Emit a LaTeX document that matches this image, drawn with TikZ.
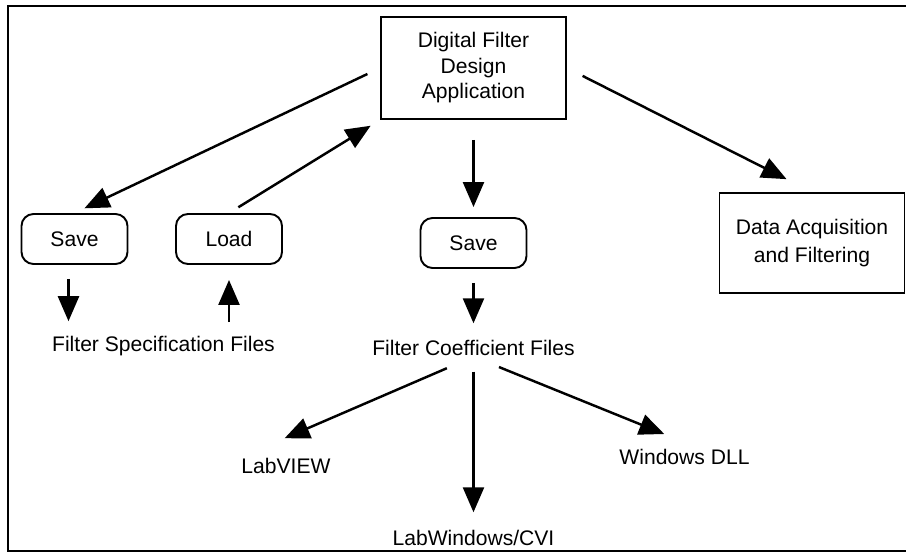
\documentclass[tikz,border=0pt]{standalone}
\usepackage{fontspec}
\setmainfont{Liberation Sans}
\usetikzlibrary{arrows.meta}

\begin{document}
\begin{tikzpicture}[node distance=3.5cm,>={Triangle[length=0.5cm,width=0.42cm]},line width=1.1pt]
        \tikzstyle{block}=[rectangle,draw,minimum width=3.7cm,minimum height=2.04cm,align=center,font=\fontsize{12}{14.5}\selectfont]
        \tikzstyle{step op}=[rectangle,draw,rounded corners=0.24cm,minimum width=2.12cm,minimum height=1cm,font=\fontsize{12}{14}\selectfont]
        \tikzstyle{files}=[inner sep=0pt,font=\fontsize{12}{14}\selectfont]
        \tikzstyle{flow}=[->,line width=1.4pt]

        \useasboundingbox (-9.47,-9.7) rectangle (8.65,1.36);
        \draw [line width=1.3pt] (-9.31,1.24) rectangle (9.3,-9.66); %frame

        \node [block] (app) {Digital Filter\\Design\\Application};
        \node [step op] (saveB) [below of=app] {Save};
        \node [step op] (load) [left of=saveB, node distance=4.89cm, yshift=0.08cm] {Load};
        \node [step op] (saveA) [left of=load, node distance=3.09cm] {Save};
        \node [block, minimum height=2cm, font=\fontsize{12}{15.5}\selectfont] (daq) [right of=saveB, node distance=6.77cm] {Data Acquisition\\and Filtering};

        \node [files] (specfiles) [below of=saveA, node distance=2.14cm, xshift=1.78cm] {Filter Specification Files};
        \node [files] (coeffiles) [below of=saveB, node distance=2.1cm] {Filter Coefficient Files};
        \node [files] (labview) [below of=coeffiles, node distance=2.36cm, xshift=-3.75cm] {LabVIEW};
        \node [files] (labwin) [below of=coeffiles, node distance=3.8cm] {LabWindows/CVI};
        \node [files] (dll) [below of=coeffiles, node distance=2.18cm, xshift=4.22cm] {Windows DLL};

        % save / load of the specification
        \draw [flow, shorten <=0.28cm, shorten >=0.22cm] (app.west) -- (saveA.north);
        \draw [flow, shorten <=0.22cm, shorten >=0.22cm] (load.north) -- (app.south west);
        \draw [flow, shorten <=0.28cm, shorten >=0.28cm] ([xshift=-0.12cm]saveA.south) -- ([xshift=-0.12cm]saveA.south |- specfiles.north);
        \draw [flow, shorten <=0.26cm, shorten >=0.3cm] (load.south |- specfiles.north) -- (load.south);
        % coefficients
        \draw [flow, shorten <=0.4cm, shorten >=0.2cm] (app.south) -- (saveB.north);
        \draw [flow, shorten <=0.28cm, shorten >=0.32cm] (saveB.south) -- (coeffiles.north);
        \draw [flow, shorten <=0.35cm, shorten >=0.57cm] (app.east) -- (daq.north);
        \draw [flow, shorten <=0.58cm, shorten >=0.96cm] (coeffiles.south) -- (labview.north west);
        \draw [flow, shorten <=0.3cm, shorten >=0.34cm] (coeffiles.south) -- (labwin.north);
        \draw [flow, shorten <=0.55cm, shorten >=0.76cm] (coeffiles.south) -- ([xshift=0.3cm]dll.north);
\end{tikzpicture}
\end{document}
